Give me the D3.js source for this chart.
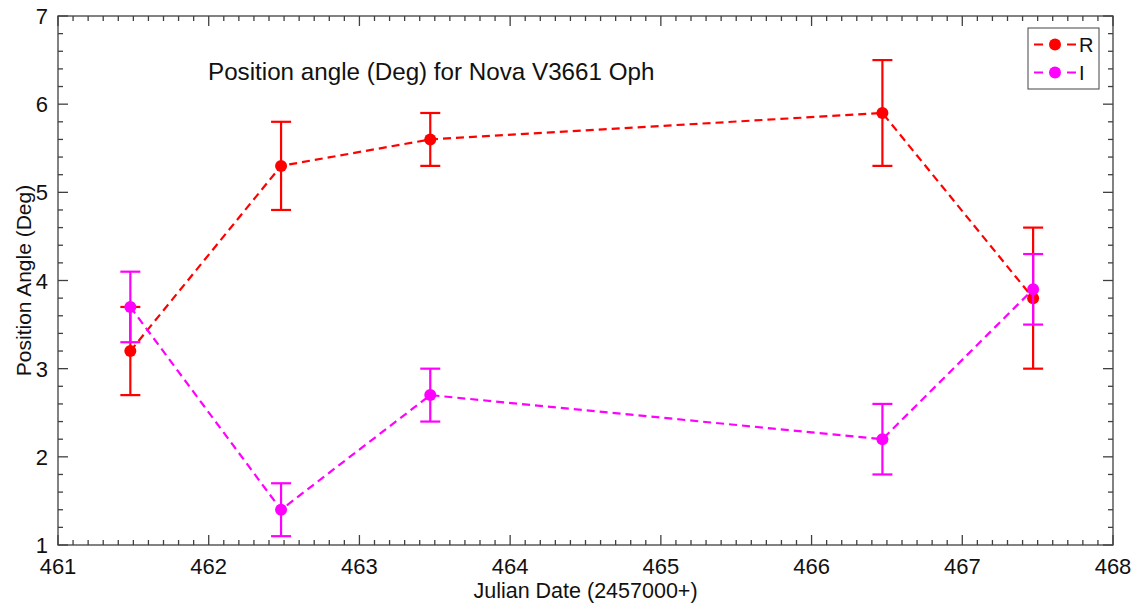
<!DOCTYPE html>
<html>
<head>
<meta charset="utf-8">
<script src="https://cdn.jsdelivr.net/npm/d3@7"></script>
<style>
  html, body { margin: 0; padding: 0; background: #fff; }
  svg { display: block; font-family: "Liberation Sans", Arial, sans-serif; }
</style>
</head>
<body>
<svg id="chart" width="1135" height="608"></svg>
<script>
// Observation dates (JD - 2457000)
const dates = [461.48, 462.48, 463.47, 466.47, 467.47];

// R band position angle and its error
const rAngle = [3.2, 5.3, 5.6, 5.9, 3.8];
const rError = [0.5, 0.5, 0.3, 0.6, 0.8];

// I band position angle and its error
const iAngle = [3.7, 1.4, 2.7, 2.2, 3.9];
const iError = [0.4, 0.3, 0.3, 0.4, 0.4];

const xTicks = [461, 462, 463, 464, 465, 466, 467, 468];
const yTicks = [1, 2, 3, 4, 5, 6, 7];

const seriesNames = ["R", "I"];
const seriesColors = ["#ff0000", "#ff00ff"];

const titleText = "Position angle (Deg) for Nova V3661 Oph";
const xLabelText = "Julian Date (2457000+)";
const yLabelText = "Position Angle (Deg)";

const svg = d3.select("#chart");
const plotL = 58, plotR = 1113, plotT = 16, plotB = 545;

const x = d3.scaleLinear().domain([461, 468]).range([plotL, plotR]);
const y = d3.scaleLinear().domain([1, 7]).range([plotB, plotT]);

const axisColor = "#404040";

// Minor tick values
const xMinor = d3.range(461, 468.001, 0.1).filter(v => Math.abs(v - Math.round(v)) > 1e-6);
const yMinor = d3.range(1, 7.001, 0.2).filter(v => Math.abs(v - Math.round(v)) > 1e-6);

const g = svg.append("g");

// Frame
g.append("rect")
  .attr("x", plotL).attr("y", plotT)
  .attr("width", plotR - plotL).attr("height", plotB - plotT)
  .attr("fill", "none").attr("stroke", axisColor).attr("stroke-width", 1.3);

// Inward ticks on all four sides
function ticksX(vals, len) {
  vals.forEach(v => {
    g.append("line").attr("x1", x(v)).attr("x2", x(v)).attr("y1", plotB).attr("y2", plotB - len)
      .attr("stroke", axisColor).attr("stroke-width", 1.3);
    g.append("line").attr("x1", x(v)).attr("x2", x(v)).attr("y1", plotT).attr("y2", plotT + len)
      .attr("stroke", axisColor).attr("stroke-width", 1.3);
  });
}
function ticksY(vals, len) {
  vals.forEach(v => {
    g.append("line").attr("x1", plotL).attr("x2", plotL + len).attr("y1", y(v)).attr("y2", y(v))
      .attr("stroke", axisColor).attr("stroke-width", 1.3);
    g.append("line").attr("x1", plotR).attr("x2", plotR - len).attr("y1", y(v)).attr("y2", y(v))
      .attr("stroke", axisColor).attr("stroke-width", 1.3);
  });
}
ticksX(xTicks, 10); ticksX(xMinor, 5);
ticksY(yTicks, 10); ticksY(yMinor, 5);

// Tick labels
g.selectAll(".xtl").data(xTicks).enter().append("text")
  .attr("x", d => x(d)).attr("y", 574)
  .attr("text-anchor", "middle").attr("font-size", 22).attr("fill", "#111")
  .text(d => d);
g.selectAll(".ytl").data(yTicks).enter().append("text")
  .attr("x", 48).attr("y", d => y(d) + 8)
  .attr("text-anchor", "end").attr("font-size", 22).attr("fill", "#111")
  .text(d => d);

// Axis labels
g.append("text").attr("x", (plotL + plotR) / 2).attr("y", 598)
  .attr("text-anchor", "middle").attr("font-size", 21.5).attr("fill", "#111")
  .text(xLabelText);
g.append("text")
  .attr("transform", `translate(31,${(plotT + plotB) / 2}) rotate(-90)`)
  .attr("text-anchor", "middle").attr("font-size", 21).attr("fill", "#111")
  .text(yLabelText);

// Title inside the plot
g.append("text").attr("x", 208).attr("y", 80)
  .attr("font-size", 24.2).attr("fill", "#111")
  .text(titleText);

// Series
const series = [
  { name: seriesNames[0], color: seriesColors[0], vals: rAngle, errs: rError },
  { name: seriesNames[1], color: seriesColors[1], vals: iAngle, errs: iError }
];

const line = d3.line().x(d => x(d[0])).y(d => y(d[1]));
const capHalf = 10;

series.forEach(s => {
  const pts = dates.map((d, i) => [d, s.vals[i], s.errs[i]]);
  const sg = g.append("g");
  sg.append("path").datum(pts).attr("d", line)
    .attr("fill", "none").attr("stroke", s.color).attr("stroke-width", 2.2)
    .attr("stroke-dasharray", "8,5");
  pts.forEach(p => {
    const cx = x(p[0]);
    const y0 = y(p[1] - p[2]), y1 = y(p[1] + p[2]);
    sg.append("line").attr("x1", cx).attr("x2", cx).attr("y1", y0).attr("y2", y1)
      .attr("stroke", s.color).attr("stroke-width", 2.2);
    [y0, y1].forEach(yy => sg.append("line")
      .attr("x1", cx - capHalf).attr("x2", cx + capHalf).attr("y1", yy).attr("y2", yy)
      .attr("stroke", s.color).attr("stroke-width", 2.2));
    sg.append("circle").attr("cx", cx).attr("cy", y(p[1])).attr("r", 6).attr("fill", s.color);
  });
});

// Legend
const lg = g.append("g");
lg.append("rect").attr("x", 1028).attr("y", 28).attr("width", 71).attr("height", 61)
  .attr("fill", "#fff").attr("stroke", "#555").attr("stroke-width", 1.1);
series.forEach((s, i) => {
  const ly = 44.5 + i * 28;
  lg.append("line").attr("x1", 1034).attr("x2", 1076).attr("y1", ly).attr("y2", ly)
    .attr("stroke", s.color).attr("stroke-width", 2.2).attr("stroke-dasharray", "9,24");
  lg.append("circle").attr("cx", 1055).attr("cy", ly).attr("r", 6).attr("fill", s.color);
  lg.append("text").attr("x", 1079).attr("y", ly + 7.5).attr("font-size", 20).attr("fill", "#111")
    .text(s.name);
});
</script>
</body>
</html>
